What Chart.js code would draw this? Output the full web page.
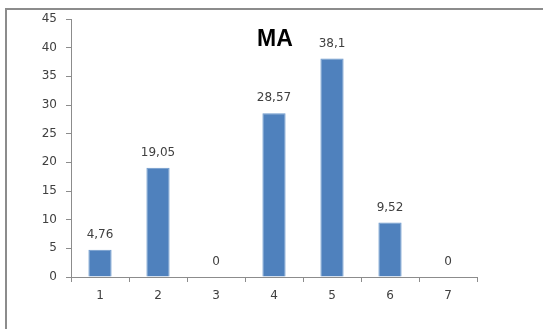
<!DOCTYPE html>
<html>
<head>
<meta charset="utf-8">
<script src="https://cdn.jsdelivr.net/npm/chart.js@4"></script>
<style>
  html, body { margin: 0; padding: 0; background: #fff; }
  #wrap { position: relative; width: 543px; height: 329px; }
</style>
</head>
<body>
<div id="wrap"><canvas id="chart"></canvas></div>
<script>
const categories = ["1", "2", "3", "4", "5", "6", "7"];
const values = [4.76, 19.05, 0, 28.57, 38.1, 9.52, 0];
const valueLabels = ["4,76", "19,05", "0", "28,57", "38,1", "9,52", "0"];
const chartTitle = "MA";

const axisColor = "#8c8c8c";
const textColor = "#404040";

// frame around the whole chart
const framePlugin = {
  id: "frame",
  beforeDraw(chart) {
    const ctx = chart.ctx;
    ctx.save();
    ctx.strokeStyle = "#8c8c8c";
    ctx.lineWidth = 2;
    ctx.strokeRect(6, 9, 700, 500);
    ctx.restore();
  },
};

// title inside plot area + value labels above bars
const labelsPlugin = {
  id: "labels",
  afterDatasetsDraw(chart) {
    const ctx = chart.ctx;
    const area = chart.chartArea;
    ctx.save();
    ctx.fillStyle = "#000";
    ctx.font = "bold 23px 'Liberation Sans', Arial, sans-serif";
    ctx.textAlign = "center";
    ctx.textBaseline = "middle";
    ctx.fillText(chartTitle, (area.left + area.right) / 2 + 1, area.top + 21);

    ctx.font = "12px 'DejaVu Sans', sans-serif";
    ctx.fillStyle = textColor;
    const meta = chart.getDatasetMeta(0);
    meta.data.forEach((bar, i) => {
      ctx.fillText(valueLabels[i], bar.x, bar.y - 15);
    });
    ctx.restore();
  },
};

new Chart(document.getElementById("chart"), {
  type: "bar",
  data: {
    labels: categories,
    datasets: [
      {
        data: values,
        backgroundColor: "#4F81BD",
        borderColor: "#6b98cc",
        borderWidth: 1,
        barPercentage: 0.4,
        categoryPercentage: 1,
      },
    ],
  },
  options: {
    responsive: true,
    maintainAspectRatio: false,
    animation: false,
    layout: { padding: { top: 19, right: 66, left: 0, bottom: 0 } },
    plugins: {
      legend: { display: false },
      tooltip: { enabled: false },
      title: { display: false },
    },
    scales: {
      x: {
        grid: {
          offset: true,
          drawOnChartArea: false,
          tickLength: 5,
          tickColor: axisColor,
        },
        border: { color: axisColor },
        ticks: {
          color: textColor,
          font: { family: "'DejaVu Sans', sans-serif", size: 12 },
          padding: 7,
        },
        afterFit(scale) {
          scale.height = 52;
        },
      },
      y: {
        min: 0,
        max: 45,
        grid: {
          drawOnChartArea: false,
          tickLength: 5,
          tickColor: axisColor,
        },
        border: { color: axisColor },
        ticks: {
          stepSize: 5,
          color: textColor,
          font: { family: "'DejaVu Sans', sans-serif", size: 12 },
          padding: 9,
        },
        afterFit(scale) {
          scale.width = 71;
        },
      },
    },
  },
  plugins: [framePlugin, labelsPlugin],
});
</script>
</body>
</html>
